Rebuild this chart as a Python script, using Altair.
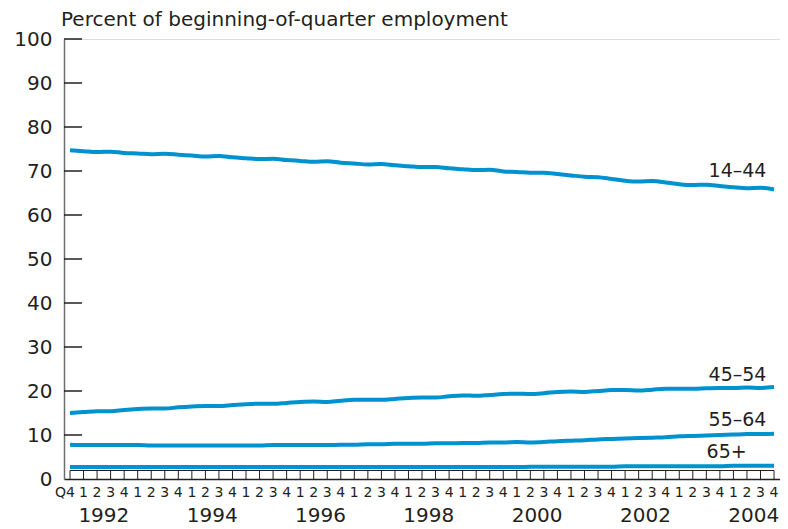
import altair as alt
import pandas as pd

# Quarter index 0 = 1991 Q4, 1 = 1992 Q1, ..., 52 = 2004 Q4
quarters = list(range(53))
quarter_labels = ["Q4"] + ["1", "2", "3", "4"] * 13
years = [1992, 1994, 1996, 1998, 2000, 2002, 2004]
y_ticks = [10, 20, 30, 40, 50, 60, 70, 80, 90, 100]

series_names = ["14–44", "45–54", "55–64", "65+"]

s_14_44 = [74.7, 74.5, 74.3, 74.4, 74.1, 74.0, 73.8, 73.9, 73.7, 73.5, 73.3, 73.4, 73.1,
           72.9, 72.7, 72.8, 72.5, 72.3, 72.1, 72.2, 71.9, 71.7, 71.5, 71.6, 71.3,
           71.1, 70.9, 70.9, 70.6, 70.4, 70.2, 70.3, 69.9, 69.8, 69.6, 69.6, 69.3,
           69.0, 68.7, 68.6, 68.2, 67.8, 67.6, 67.7, 67.4, 67.0, 66.8, 66.9, 66.6,
           66.3, 66.1, 66.2, 65.8]
s_45_54 = [15.0, 15.2, 15.4, 15.4, 15.7, 15.9, 16.0, 16.0, 16.3, 16.5, 16.6, 16.6, 16.8,
           17.0, 17.1, 17.1, 17.3, 17.5, 17.6, 17.5, 17.8, 18.0, 18.0, 18.0, 18.2,
           18.4, 18.5, 18.5, 18.8, 19.0, 18.9, 19.1, 19.3, 19.4, 19.3, 19.5, 19.8,
           19.9, 19.8, 20.0, 20.2, 20.2, 20.1, 20.3, 20.5, 20.5, 20.5, 20.6, 20.7,
           20.7, 20.8, 20.7, 20.9]
s_55_64 = [7.8, 7.7, 7.7, 7.7, 7.7, 7.7, 7.6, 7.6, 7.6, 7.6, 7.6, 7.6, 7.6,
           7.6, 7.6, 7.7, 7.7, 7.7, 7.7, 7.7, 7.8, 7.8, 7.9, 7.9, 8.0,
           8.0, 8.0, 8.1, 8.1, 8.2, 8.2, 8.3, 8.3, 8.4, 8.3, 8.4, 8.6,
           8.7, 8.8, 9.0, 9.1, 9.2, 9.3, 9.4, 9.5, 9.7, 9.8, 9.9, 10.0,
           10.1, 10.2, 10.2, 10.3]
s_65_plus = [2.7, 2.7, 2.7, 2.7, 2.7, 2.7, 2.7, 2.7, 2.7, 2.7, 2.7, 2.7, 2.7,
             2.7, 2.7, 2.7, 2.7, 2.7, 2.7, 2.7, 2.7, 2.7, 2.7, 2.7, 2.7,
             2.7, 2.7, 2.7, 2.7, 2.7, 2.7, 2.7, 2.7, 2.7, 2.8, 2.8, 2.8,
             2.8, 2.8, 2.8, 2.8, 2.9, 2.9, 2.9, 2.9, 2.9, 2.9, 2.9, 2.9,
             3.0, 3.0, 3.0, 3.0]

# Annotation anchors for the series labels (quarter index, percent)
label_q = [49.3, 49.3, 49.3, 48.5]
label_y = [70.0, 23.6, 13.4, 6.1]

TITLE = "Percent of beginning-of-quarter employment"

FONT = "DejaVu Sans"
TEXT = "#231f20"
BLUE = "#0091cf"
W, H = 716, 440

rows = []
for name, vals in zip(series_names, [s_14_44, s_45_54, s_55_64, s_65_plus]):
    for q, v in zip(quarters, vals):
        rows.append({"q": q, "series": name, "value": v})
df = pd.DataFrame(rows)

x_scale = alt.Scale(domain=[-0.443, 52.44], nice=False, zero=False)
y_scale = alt.Scale(domain=[0, 100], nice=False)
x_axis = alt.Axis(labels=False, ticks=False, grid=False, title=None,
                  domainColor=TEXT, domainWidth=1.5)
y_axis = alt.Axis(values=[0] + y_ticks, ticks=False, grid=False, title=None,
                  labelFontSize=20, labelPadding=12, labelColor=TEXT, labelFont=FONT,
                  domainColor="#6d6e71", domainWidth=1.5)

X = alt.X("q:Q", scale=x_scale, axis=x_axis)

lines = alt.Chart(df).mark_line(color=BLUE, strokeWidth=4, interpolate="monotone").encode(
    x=X,
    y=alt.Y("value:Q", scale=y_scale, axis=y_axis),
    detail="series:N",
)

ytick_df = pd.DataFrame({"v": y_ticks})
yticks = alt.Chart(ytick_df).mark_rule(color=TEXT, strokeWidth=1.5).encode(
    y=alt.Y("v:Q", scale=y_scale, axis=y_axis),
    x=alt.value(0), x2=alt.value(18),
)

q_df = pd.DataFrame({"q": quarters, "label": quarter_labels})
xticks = alt.Chart(q_df).mark_rule(color=TEXT, strokeWidth=1).encode(
    x=X, y=alt.value(H), y2=alt.value(H - 8.5),
)
box_top = alt.Chart(pd.DataFrame({"a": [quarters[0]], "b": [quarters[-1]]})).mark_rule(
    color=TEXT, strokeWidth=1).encode(
    x=alt.X("a:Q", scale=x_scale, axis=x_axis), x2="b:Q", y=alt.value(H - 8.5),
)

q_first = alt.Chart(q_df[q_df.q == 0]).mark_text(
    font=FONT, fontSize=14, color=TEXT, align="right", dx=5, baseline="middle").encode(
    x=X, y=alt.value(H + 14), text="label:N")
q_rest = alt.Chart(q_df[q_df.q > 0]).mark_text(
    font=FONT, fontSize=14, color=TEXT, align="center", baseline="middle").encode(
    x=X, y=alt.value(H + 14), text="label:N")

year_df = pd.DataFrame({"year": [str(y) for y in years],
                        "qc": [(y - 1992) * 4 + 2.5 for y in years]})
year_text = alt.Chart(year_df).mark_text(
    font=FONT, fontSize=20, color=TEXT, align="center", baseline="middle").encode(
    x=alt.X("qc:Q", scale=x_scale, axis=x_axis), y=alt.value(H + 37), text="year:N")

lab_df = pd.DataFrame({"name": series_names, "q": label_q, "y": label_y})
labels = alt.Chart(lab_df).mark_text(
    font=FONT, fontSize=19, color=TEXT, align="center", baseline="middle").encode(
    x=X, y=alt.Y("y:Q", scale=y_scale, axis=y_axis), text="name:N")

title = alt.Chart(pd.DataFrame({"t": [TITLE]})).mark_text(
    font=FONT, fontSize=20, color=TEXT, align="left", baseline="middle").encode(
    x=alt.value(-3), y=alt.value(-19), text="t:N")

chart = alt.layer(yticks, xticks, box_top, lines, labels, q_first, q_rest, year_text, title).properties(
    width=W, height=H,
    autosize=alt.AutoSizeParams(type="none"),
    padding={"left": 56, "top": 31, "right": 0, "bottom": 50},
).configure_view(stroke=None).configure(background="white")

chart.save("out.html", embed_options={"renderer": "svg", "actions": False})
